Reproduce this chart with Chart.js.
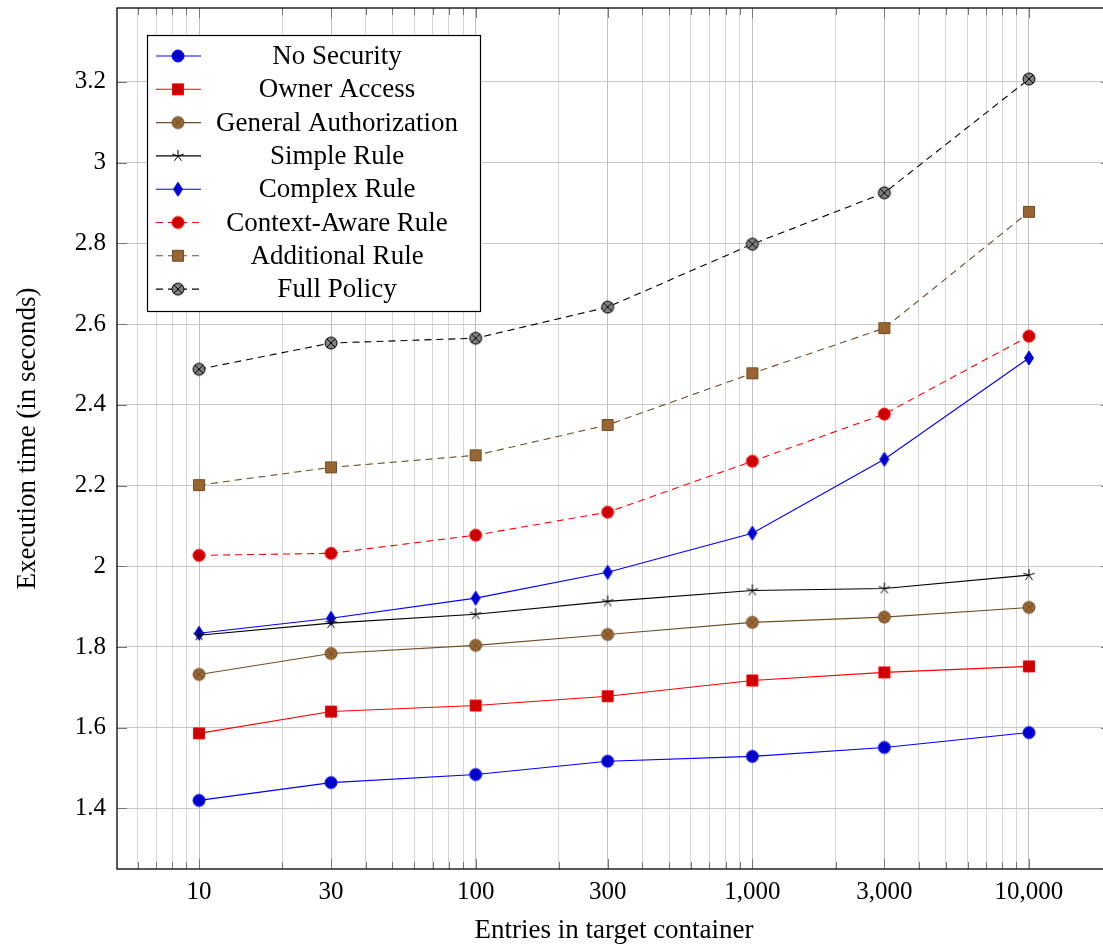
<!DOCTYPE html>
<html>
<head>
<meta charset="utf-8">
<script src="https://cdn.jsdelivr.net/npm/chart.js@4"></script>
<style>
  html, body { margin: 0; background: #fff; overflow: hidden; }
  #wrap { width: 1120px; height: 947px; position: relative; }
</style>
</head>
<body>
<div id="wrap"><canvas id="chart"></canvas></div>
<script>
// Entries in target container (x) and execution times in seconds
const entries = [10, 30, 100, 300, 1000, 3000, 10000];
const noSecurity = [1.420, 1.464, 1.484, 1.517, 1.529, 1.551, 1.588];
const ownerAccess = [1.586, 1.640, 1.655, 1.678, 1.717, 1.737, 1.752];
const generalAuth = [1.732, 1.784, 1.804, 1.831, 1.861, 1.874, 1.898];
const simpleRule = [1.829, 1.859, 1.881, 1.913, 1.940, 1.945, 1.978];
const complexRule = [1.834, 1.871, 1.921, 1.985, 2.082, 2.265, 2.516];
const contextAware = [2.027, 2.032, 2.077, 2.134, 2.260, 2.377, 2.570];
const additionalRule = [2.201, 2.245, 2.275, 2.350, 2.478, 2.590, 2.878];
const fullPolicy = [2.488, 2.553, 2.565, 2.642, 2.798, 2.925, 3.207];

const seriesNames = ["No Security", "Owner Access", "General Authorization", "Simple Rule",
  "Complex Rule", "Context-Aware Rule", "Additional Rule", "Full Policy"];
const xTickLabels = [10, 30, 100, 300, 1000, 3000, 10000];
const yTickLabels = [1.4, 1.6, 1.8, 2, 2.2, 2.4, 2.6, 2.8, 3, 3.2];

const FONT = "'Liberation Serif', 'DejaVu Serif', serif";

// marker images (pgfplots style marks)
const makeMarker = (type, fill, stroke) => {
  const c = document.createElement("canvas");
  c.width = 20; c.height = 20;
  const g = c.getContext("2d");
  g.translate(10, 10);
  g.lineWidth = 1;
  g.strokeStyle = stroke;
  g.fillStyle = fill;
  g.beginPath();
  if (type === "circle" || type === "otimes") {
    g.arc(0, 0, 6, 0, Math.PI * 2);
    g.fill(); g.stroke();
    if (type === "otimes") {
      const d = 4.2;
      g.beginPath();
      g.moveTo(-d, -d); g.lineTo(d, d);
      g.moveTo(d, -d); g.lineTo(-d, d);
      g.stroke();
    }
  } else if (type === "square") {
    g.rect(-5.5, -5.5, 11, 11);
    g.fill(); g.stroke();
  } else if (type === "diamond") {
    g.moveTo(0, -7); g.lineTo(4.5, 0); g.lineTo(0, 7); g.lineTo(-4.5, 0);
    g.closePath();
    g.fill(); g.stroke();
  } else if (type === "star") {
    for (let i = 0; i < 5; i++) {
      const a = -Math.PI / 2 + i * 2 * Math.PI / 5;
      g.moveTo(0, 0);
      g.lineTo(6 * Math.cos(a), 6 * Math.sin(a));
    }
    g.stroke();
  }
  return c;
};

const styles = [
  { color: "#0000ff", marker: makeMarker("circle", "#0000cc", "#0000ff"), dash: [] },
  { color: "#ff0000", marker: makeMarker("square", "#cc0000", "#ff0000"), dash: [] },
  { color: "#734d26", marker: makeMarker("otimes", "#996633", "#734d26"), dash: [] },
  { color: "#000000", marker: makeMarker("star", "#000", "#000"), dash: [] },
  { color: "#0000ff", marker: makeMarker("diamond", "#0000cc", "#0000ff"), dash: [] },
  { color: "#ff0000", marker: makeMarker("circle", "#cc0000", "#ff0000"), dash: [7, 5] },
  { color: "#734d26", marker: makeMarker("square", "#996633", "#734d26"), dash: [7, 5] },
  { color: "#000000", marker: makeMarker("otimes", "#808080", "#000000"), dash: [7, 5] },
];

const allSeries = [noSecurity, ownerAccess, generalAuth, simpleRule,
  complexRule, contextAware, additionalRule, fullPolicy];

const datasets = allSeries.map((vals, i) => ({
  label: seriesNames[i],
  data: entries.map((x, j) => ({ x: x, y: vals[j] })),
  borderColor: styles[i].color,
  backgroundColor: styles[i].color,
  borderWidth: 1.1,
  borderDash: styles[i].dash,
  pointStyle: styles[i].marker,
  pointRadius: 6,
  tension: 0,
}));

// grid positions for the log axis: 1..9 x 10^k inside the range
const xMin = 5.053, xMax = 19790;
const xGrid = [];
for (let e = 0; e <= 4; e++) {
  for (let m = 1; m <= 9; m++) {
    const v = m * Math.pow(10, e);
    if (v >= xMin && v <= xMax) xGrid.push(v);
  }
}
xTickLabels.forEach((v) => { if (!xGrid.includes(v)) xGrid.push(v); });
xGrid.sort((a, b) => a - b);

const noPadding = (scale) => {
  scale.paddingTop = 0;
  scale.paddingBottom = 0;
  scale.paddingLeft = 0;
  scale.paddingRight = 0;
};

// legend box drawn inside the plot
const legendPlugin = {
  id: "boxLegend",
  afterDatasetsDraw(chart) {
    const g = chart.ctx;
    const x0 = 147, y0 = 35, w = 333, h = 276;
    g.save();
    g.fillStyle = "#fff";
    g.fillRect(x0, y0, w, h);
    g.strokeStyle = "#000";
    g.lineWidth = 1.2;
    g.strokeRect(x0 + 0.5, y0 + 0.5, w, h);
    g.font = "27px " + FONT;
    g.textAlign = "center";
    g.textBaseline = "middle";
    chart.data.datasets.forEach((ds, i) => {
      const cy = 56 + i * 33.3;
      g.strokeStyle = ds.borderColor;
      g.lineWidth = ds.borderWidth;
      g.setLineDash(ds.borderDash);
      g.beginPath();
      g.moveTo(156, cy); g.lineTo(201, cy);
      g.stroke();
      g.setLineDash([]);
      g.drawImage(ds.pointStyle, 178 - 10, cy - 10);
      g.fillStyle = "#000";
      g.fillText(ds.label, 337, cy + 1);
    });
    g.restore();
  },
};

// frame and inner tick marks
const framePlugin = {
  id: "frame",
  afterDraw(chart) {
    const { left, right, top, bottom } = chart.chartArea;
    const g = chart.ctx;
    const xs = chart.scales.x, ys = chart.scales.y;
    g.save();
    g.strokeStyle = "#777";
    g.lineWidth = 1;
    xGrid.forEach((v) => {
      const px = Math.round(xs.getPixelForValue(v)) + 0.5;
      const len = xTickLabels.includes(v) ? 10 : 7;
      g.beginPath();
      g.moveTo(px, bottom); g.lineTo(px, bottom - len);
      g.moveTo(px, top); g.lineTo(px, top + len);
      g.stroke();
    });
    yTickLabels.forEach((v) => {
      const py = Math.round(ys.getPixelForValue(v)) + 0.5;
      g.beginPath();
      g.moveTo(left, py); g.lineTo(left + 10, py);
      g.moveTo(right, py); g.lineTo(right - 10, py);
      g.stroke();
    });
    g.strokeStyle = "#000";
    g.lineWidth = 1.3;
    g.strokeRect(left, top, right - left, bottom - top);
    g.restore();
  },
};

new Chart(document.getElementById("chart"), {
  type: "line",
  data: { datasets: datasets },
  plugins: [legendPlugin, framePlugin],
  options: {
    responsive: true,
    maintainAspectRatio: false,
    animation: false,
    layout: { padding: { top: 8, right: 9, left: 0, bottom: 0 } },
    plugins: {
      legend: { display: false },
      tooltip: { enabled: false },
    },
    scales: {
      x: {
        type: "logarithmic",
        min: xMin,
        max: xMax,
        afterBuildTicks: (scale) => {
          scale.ticks = xGrid.map((v) => ({ value: v }));
        },
        afterFit: (scale) => { scale.height = 78; noPadding(scale); },
        ticks: {
          autoSkip: false,
          maxRotation: 0,
          padding: 8,
          color: "#000",
          font: { family: FONT, size: 25 },
          callback: (v) => (xTickLabels.includes(v) ? v.toLocaleString("en-US") : ""),
        },
        grid: {
          drawTicks: false,
          lineWidth: 1,
          color: (ctx) => (ctx.tick && xTickLabels.includes(ctx.tick.value) ? "#bfbfbf" : "#d6d6d6"),
        },
        border: { display: false },
        title: {
          display: true,
          text: "Entries in target container",
          color: "#000",
          font: { family: FONT, size: 27 },
          padding: { top: 0, bottom: 0 },
        },
      },
      y: {
        type: "linear",
        min: 1.25,
        max: 3.383,
        afterBuildTicks: (scale) => {
          scale.ticks = yTickLabels.map((v) => ({ value: v }));
        },
        afterFit: (scale) => { scale.width = 117; noPadding(scale); },
        ticks: {
          padding: 11,
          color: "#000",
          font: { family: FONT, size: 25 },
          callback: (v) => String(Number(v.toFixed(1))),
        },
        grid: { drawTicks: false, color: "#c8c8c8", lineWidth: 1 },
        border: { display: false },
        title: {
          display: true,
          text: "Execution time (in seconds)",
          color: "#000",
          font: { family: FONT, size: 27 },
          padding: { top: 12, bottom: 0 },
        },
      },
    },
  },
});
</script>
</body>
</html>
